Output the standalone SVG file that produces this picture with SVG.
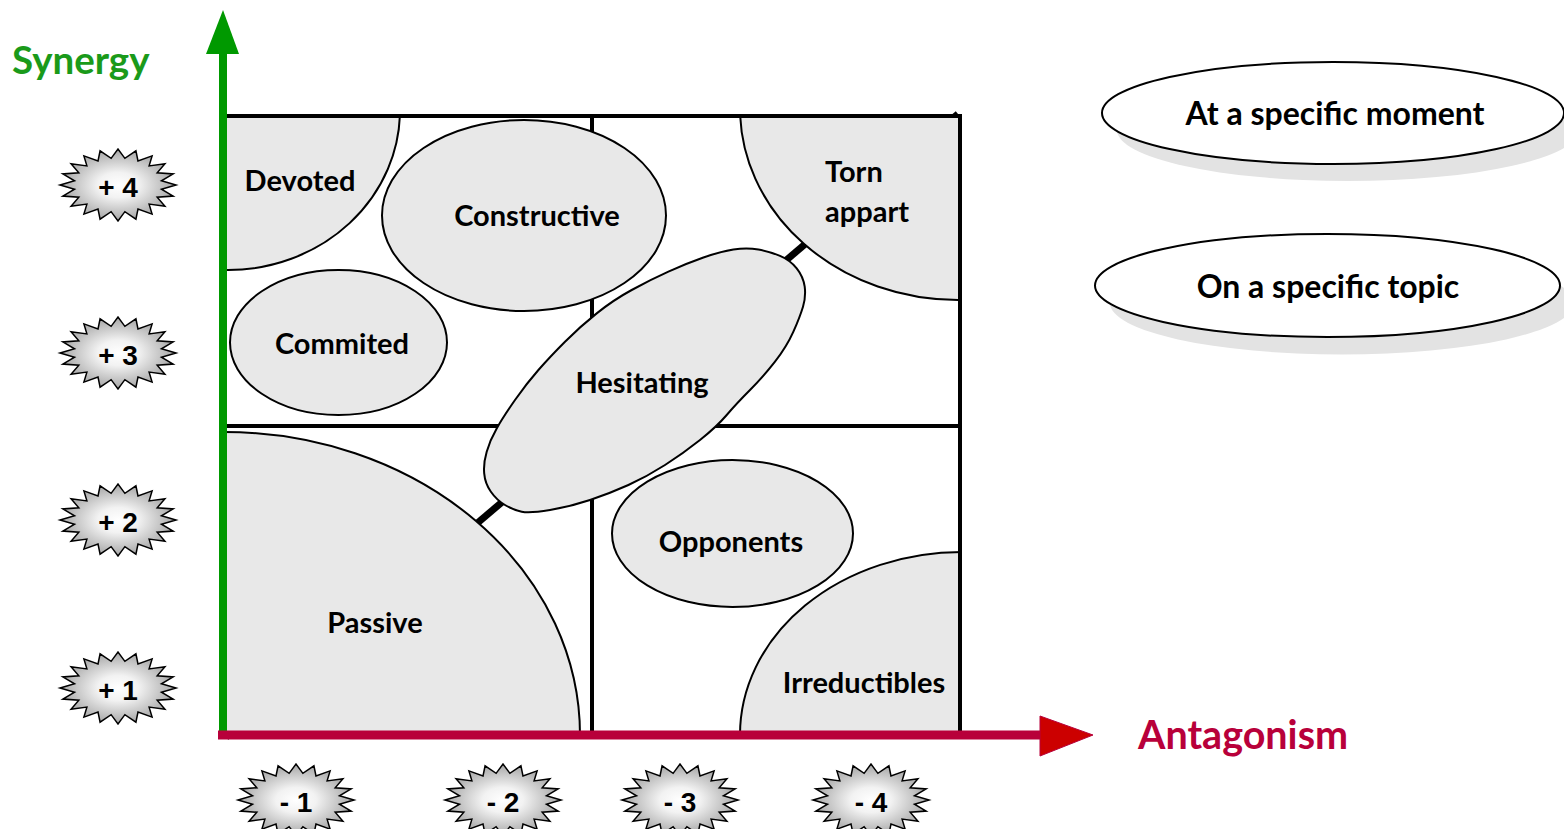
<svg xmlns="http://www.w3.org/2000/svg" xmlns:xlink="http://www.w3.org/1999/xlink" width="1564" height="829" viewBox="0 0 1564 829">
<style>
.shape{fill:#E8E8E8;stroke:#000;stroke-width:2}
.grid{stroke:#000;stroke-width:4;fill:none}
.lbl{font-family:Lato,"Liberation Sans",sans-serif;font-weight:bold;font-size:29px;fill:#000;text-anchor:middle}
.big{font-family:Lato,"Liberation Sans",sans-serif;font-weight:bold;font-size:32px;fill:#000;text-anchor:middle}
.badge{fill:url(#burst);stroke:#000;stroke-width:1.5}
.btxt{font-family:"Liberation Sans",Arial,sans-serif;font-weight:bold;font-size:28px;fill:#000;text-anchor:middle}
</style>
<defs>
<radialGradient id="burst" cx="0.5" cy="0.5" r="0.5">
<stop offset="0" stop-color="#ffffff"/>
<stop offset="0.35" stop-color="#f2f2f2"/>
<stop offset="1" stop-color="#a6a6a6"/>
</radialGradient>
<path id="star" d="M58,0 L43.46,4.22 55.16,11.12 39.2,12.26 46.92,21.16 31.11,19.09 34.09,29.12 19.98,24.06 17.92,34.24 6.88,26.67 0,36 -6.88,26.67 -17.92,34.24 -19.98,24.06 -34.09,29.12 -31.11,19.09 -46.92,21.16 -39.2,12.26 -55.16,11.12 -43.46,4.22 -58,0 -43.46,-4.22 -55.16,-11.12 -39.2,-12.26 -46.92,-21.16 -31.11,-19.09 -34.09,-29.12 -19.98,-24.06 -17.92,-34.24 -6.88,-26.67 0,-36 6.88,-26.67 17.92,-34.24 19.98,-24.06 34.09,-29.12 31.11,-19.09 46.92,-21.16 39.2,-12.26 55.16,-11.12 43.46,-4.22 Z"/>
<clipPath id="gridclip"><rect x="224" y="116" width="738" height="619"/></clipPath>
</defs>
<rect width="1564" height="829" fill="#fff"/>

<g id="grid-lines">
<line class="grid" x1="224" y1="426" x2="962" y2="426"/>
<line class="grid" x1="592" y1="116" x2="592" y2="735"/>
</g>

<g id="connectors">
<line x1="226" y1="737" x2="958" y2="114" stroke="#000" stroke-width="7"/>
</g>

<g clip-path="url(#gridclip)">
<g id="devoted"><ellipse class="shape" cx="228" cy="110" rx="172" ry="160"/><text class="lbl" x="300" y="191">Devoted</text></g>
<g id="torn-apart"><ellipse class="shape" cx="958" cy="108" rx="218" ry="192"/><text class="lbl" x="825" y="182" style="text-anchor:start">Torn</text><text class="lbl" x="825" y="222" style="text-anchor:start">appart</text></g>
<g id="passive"><ellipse class="shape" cx="224" cy="735" rx="356" ry="303"/><text class="lbl" x="375" y="633">Passive</text></g>
<g id="irreductibles"><ellipse class="shape" cx="962" cy="735" rx="222" ry="183"/><text class="lbl" x="864" y="693">Irreductibles</text></g>
</g>
<g id="constructive"><ellipse class="shape" cx="524" cy="215.5" rx="142" ry="95.5"/><text class="lbl" x="537" y="226">Constructive</text></g>
<g id="commited"><ellipse class="shape" cx="338.5" cy="342.5" rx="108.5" ry="72.5"/><text class="lbl" x="342" y="354">Commited</text></g>
<g id="opponents"><ellipse class="shape" cx="732.5" cy="533.5" rx="120.5" ry="73.5"/><text class="lbl" x="731" y="552">Opponents</text></g>
<g id="hesitating"><path class="shape" d="M758.4,249.5 Q770,251.7 780,255.9 Q790,260 796.7,268.4 Q803.3,276.7 804.7,286.7 Q806,296.7 803,306.7 Q800,316.7 793.4,331.7 Q786.7,346.7 775,361.7 Q763.3,376.7 750,390 Q736.7,403.3 726.7,415 Q716.7,426.7 700,440 Q683.3,453.3 665,465 Q646.7,476.7 628.4,485 Q610,493.3 590,500 Q570,506.7 550,510 Q530,513.3 521.7,511.7 Q513.3,510 505,505 Q496.7,500 490.9,491.7 Q485,483.3 484.2,473.3 Q483.3,463.3 486.7,451.7 Q490,440 496.7,428.4 Q503.3,416.7 515,400 Q526.7,383.3 538.4,370 Q550,356.7 565,341.7 Q580,326.7 596.7,313.4 Q613.3,300 631.7,290 Q650,280 668.4,271.7 Q686.7,263.3 703.4,257.5 Q720,251.7 733.4,249.5 Q746.7,247.3 758.4,249.5 Z"/><text class="lbl" x="642" y="393">Hesitating</text></g>

<g id="grid-border">
<polyline class="grid" points="224,116 960,116 960,735"/>
</g>

<g id="axes">
<line x1="223" y1="50" x2="223" y2="738" stroke="#009900" stroke-width="8"/>
<polygon points="223,10 206,54 239,54" fill="#009900"/>
<line x1="218" y1="735" x2="1045" y2="735" stroke="#B8003A" stroke-width="9"/>
<polygon points="1040,716 1093,735 1040,756" fill="#CC0000" stroke="#B8003A" stroke-width="1"/>
</g>

<g id="synergy-label"><text x="12" y="74" style="font-family:Lato,'Liberation Sans',sans-serif;font-weight:bold;font-size:38.5px;fill:#1A9A1A">Synergy</text></g>
<g id="antagonism-label"><text x="1138" y="749" style="font-family:Lato,'Liberation Sans',sans-serif;font-weight:bold;font-size:39.5px;fill:#B8003A">Antagonism</text></g>

<g id="moment">
<ellipse cx="1348" cy="130" rx="231" ry="51" fill="#E3E3E3"/>
<ellipse cx="1333" cy="113" rx="231" ry="51" fill="#fff" stroke="#000" stroke-width="2"/>
<text class="big" x="1335" y="125">At a specific moment</text>
</g>
<g id="topic">
<ellipse cx="1342" cy="303" rx="232" ry="51.5" fill="#E3E3E3"/>
<ellipse cx="1327.5" cy="285.5" rx="232.5" ry="51.5" fill="#fff" stroke="#000" stroke-width="2"/>
<text class="big" x="1328" y="298">On a specific topic</text>
</g>

<g id="badge-p4"><use xlink:href="#star" x="118" y="185" class="badge"/><text class="btxt" x="118" y="197">+ 4</text></g>
<g id="badge-p3"><use xlink:href="#star" x="118" y="353" class="badge"/><text class="btxt" x="118" y="365">+ 3</text></g>
<g id="badge-p2"><use xlink:href="#star" x="118" y="520" class="badge"/><text class="btxt" x="118" y="532">+ 2</text></g>
<g id="badge-p1"><use xlink:href="#star" x="118" y="688" class="badge"/><text class="btxt" x="118" y="700">+ 1</text></g>
<g id="badge-m1"><use xlink:href="#star" x="296" y="800" class="badge"/><text class="btxt" x="296" y="812">- 1</text></g>
<g id="badge-m2"><use xlink:href="#star" x="503" y="800" class="badge"/><text class="btxt" x="503" y="812">- 2</text></g>
<g id="badge-m3"><use xlink:href="#star" x="680" y="800" class="badge"/><text class="btxt" x="680" y="812">- 3</text></g>
<g id="badge-m4"><use xlink:href="#star" x="871" y="800" class="badge"/><text class="btxt" x="871" y="812">- 4</text></g>
</svg>
